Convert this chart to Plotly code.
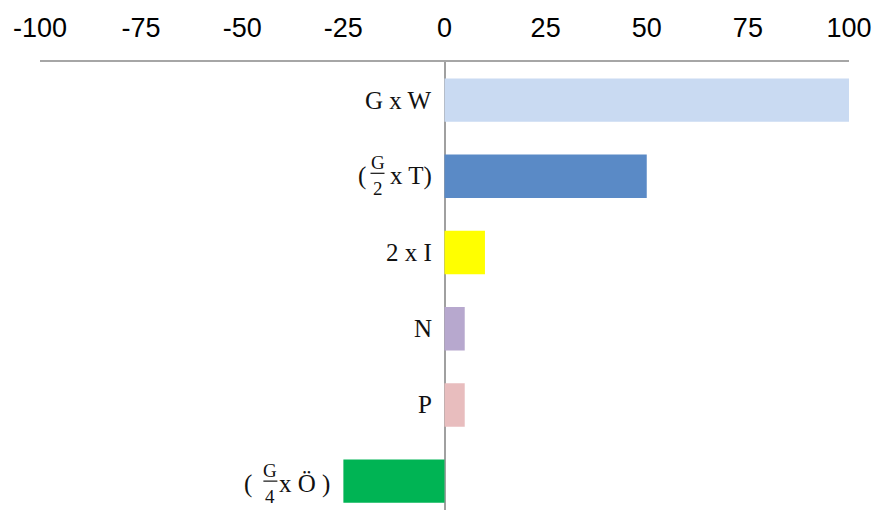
import plotly.graph_objects as go

categories = ["GxW", "G/2xT", "2xI", "N", "P", "G/4xÖ"]
values = [100, 50, 10, 5, 5, -25]
colors = ["#C9DAF2", "#5A8AC6", "#FFFF00", "#B7A8CE", "#E8BDBE", "#00B454"]

# label pieces: (prefix, numerator, denominator, suffix)
label_parts = [
    ("", "", "", "G x W"),
    ("(", "G", "2", "x T)"),
    ("", "", "", "2 x I"),
    ("", "", "", "N"),
    ("", "", "", "P"),
    ("(", "G", "4", "x Ö )"),
]
tick_vals = [-100, -75, -50, -25, 0, 25, 50, 75, 100]
tick_text = ["-100", "-75", "-50", "-25", "0", "25", "50", "75", "100"]

# layout offsets (pixels, relative to the right edge of the label) for fraction labels
frac_layout = {1: (-56, -66), 5: (-62, -78)}
row_shift = {1: 0, 5: -3}

serif = "Liberation Serif"
fig = go.Figure()
fig.add_trace(go.Bar(
    y=categories, x=values, orientation="h",
    marker=dict(color=colors, line=dict(width=0)),
    width=0.57, hoverinfo="skip",
))

annotations = []
shapes = []
for i, (cat, v, parts) in enumerate(zip(categories, values, label_parts)):
    pre, num, den, suf = parts
    ax = min(v, 0)
    edge = -11
    rs = row_shift.get(i, 0)
    annotations.append(dict(x=ax, y=i, xref="x", yref="y", text=suf, showarrow=False,
                            xanchor="right", yanchor="middle", xshift=edge, yshift=rs,
                            font=dict(family=serif, size=25, color="#111")))
    if num:
        fc, pr = frac_layout[i]
        annotations.append(dict(x=ax, y=i, xref="x", yref="y", text=num, showarrow=False,
                                xanchor="center", yanchor="middle", xshift=edge + fc, yshift=rs + 14,
                                font=dict(family=serif, size=19, color="#111")))
        annotations.append(dict(x=ax, y=i, xref="x", yref="y", text=den, showarrow=False,
                                xanchor="center", yanchor="middle", xshift=edge + fc, yshift=rs - 12,
                                font=dict(family=serif, size=19, color="#111")))
        annotations.append(dict(x=ax, y=i, xref="x", yref="y", text=pre, showarrow=False,
                                xanchor="right", yanchor="middle", xshift=edge + pr, yshift=rs,
                                font=dict(family=serif, size=25, color="#111")))
        shapes.append(dict(type="line", xref="x", yref="y", xsizemode="pixel", ysizemode="pixel",
                           xanchor=ax, yanchor=i, x0=edge + fc - 7, x1=edge + fc + 7,
                           y0=rs + 3, y1=rs + 3, line=dict(color="#111", width=1.2)))

fig.update_layout(
    width=887, height=510,
    margin=dict(l=32, r=46, t=54, b=0),
    paper_bgcolor="white", plot_bgcolor="white",
    showlegend=False,
    annotations=annotations, shapes=shapes,
    xaxis=dict(side="top", range=[-100, 100], tickvals=tick_vals, ticktext=tick_text,
               showgrid=False, showline=True, linecolor="#A6A6A6", linewidth=2,
               zeroline=True, zerolinecolor="#A0A0A0", zerolinewidth=1.5,
               ticks="", ticklabelstandoff=12, layer="above traces",
               tickfont=dict(family="Liberation Sans", size=27, color="#000")),
    yaxis=dict(type="category", range=[5.484, -0.5], showticklabels=False,
               showgrid=False, showline=False, zeroline=False, ticks=""),
)
fig.write_html("out.html")
